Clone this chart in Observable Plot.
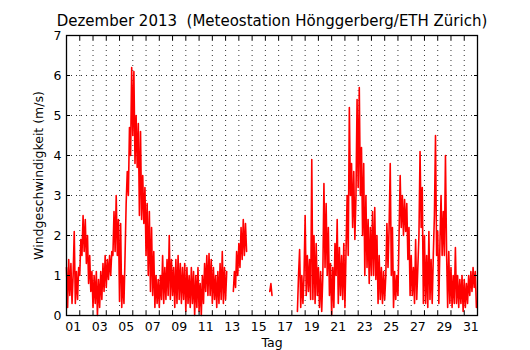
<!DOCTYPE html>
<html>
<head>
<meta charset="utf-8">
<script src="https://cdn.jsdelivr.net/npm/d3@7"></script>
<script src="https://cdn.jsdelivr.net/npm/@observablehq/plot@0.6"></script>
<style>
  body { margin: 0; background: white; font-family: "DejaVu Sans", sans-serif; }
  #wrap { position: relative; width: 530px; height: 350px; }
  #title { position: absolute; left: 0; top: 14px; padding-left: 14px; width: 516px; text-align: center;
           font-size: 15px; line-height: 15px; color: black; white-space: nowrap; z-index: 2; }
  #chart { position: absolute; left: 0; top: 0; }
</style>
</head>
<body>
<div id="wrap">
<div id="chart"></div>
<div id="title">Dezember 2013&nbsp; (Meteostation Hönggerberg/ETH Zürich)</div>
</div>
<script>
// Wind speed (m/s), 2-hourly readings per day (00h, 02h, ... 22h); null = no data
const d01 = [1.2, 0.2, 1.4, 0.5, 1.3, 0.3, 1.0, 2.1, 0.3, 1.1, 0.4, 1.2];
const d02 = [1.0, 1.9, 1.5, 2.5, 1.6, 2.4, 1.3, 2.0, 0.8, 1.5, 0.6, 1.1];
const d03 = [0.2, 1.0, 0.3, 1.1, 0.0, 0.9, 0.2, 1.1, 0.4, 1.3, 0.6, 1.5];
const d04 = [0.7, 1.4, 0.9, 1.5, 1.0, 1.6, 1.5, 2.6, 1.6, 3.0, 1.5, 2.4];
const d05 = [0.35, 2.3, 0.2, 1.0, 0.3, 1.5, 2.8, 3.6, 3.0, 4.7, 4.0, 6.2];
const d06 = [4.5, 6.1, 3.8, 5.0, 3.7, 4.8, 2.5, 4.6, 2.4, 3.5, 2.3, 3.2];
const d07 = [1.5, 2.8, 1.0, 2.6, 0.6, 2.2, 0.5, 1.6, 0.2, 1.0, 0.3, 0.9];
const d08 = [0.2, 1.0, 0.4, 1.5, 0.3, 1.2, 0.4, 1.4, 0.5, 2.0, 0.4, 1.4];
const d09 = [0.5, 1.2, 0.2, 1.4, 0.3, 1.5, 0.4, 1.3, 0.3, 1.2, 0.4, 1.3];
const d10 = [0.1, 1.2, 0.3, 1.0, 0.2, 1.2, 0.3, 1.1, 0.0, 1.0, 0.2, 1.2];
const d11 = [0.1, 0.8, 0.0, 1.0, 0.3, 1.3, 0.6, 1.5, 0.5, 1.55, 0.5, 1.4];
const d12 = [0.3, 1.2, 0.4, 1.0, 0.2, 1.1, 0.3, 1.3, 0.4, 1.6, 0.3, 1.2];
const d13 = [0.4, 1.1, null, null, null, null, null, 0.6, 1.1, 0.7, 1.6, 1.0];
const d14 = [1.8, 1.2, 2.2, 1.4, 2.4, 1.5, 2.3, 1.6, null, null, null, null];
const d15 = [null, null, null, null, null, null, null, null, null, null, null, null];
const d16 = [null, null, null, null, 0.6, 0.8, 0.5, null, null, null, null, null];
const d17 = [null, null, null, null, null, null, null, null, null, null, null, null];
const d18 = [null, null, null, null, null, 0.1, 1.0, 1.65, 0.2, 1.0, 0.3, 1.0];
const d19 = [2.5, 0.5, 1.5, 0.6, 1.4, 0.4, 3.9, 0.4, 2.0, 0.3, 1.8, 0.5];
const d20 = [1.2, 0.2, 1.1, 0.1, 1.0, 3.3, 1.2, 2.8, 1.0, 2.2, 0.5, 1.3];
const d21 = [0.0, 1.2, 0.2, 1.8, 1.0, 2.4, 0.3, 1.7, 0.5, 1.5, 0.4, 1.8];
const d22 = [0.2, 1.6, 3.0, 1.5, 5.2, 3.0, 3.8, 2.2, 3.6, 1.9, 3.0, 5.4];
const d23 = [3.2, 5.7, 3.0, 4.2, 2.0, 3.8, 1.0, 3.0, 1.2, 2.4, 0.8, 2.2];
const d24 = [1.0, 2.6, 1.0, 2.7, 0.9, 2.0, 0.3, 1.5, 0.4, 1.2, 0.3, 1.1];
const d25 = [0.4, 1.0, 2.3, 1.2, 2.2, 3.8, 1.0, 2.2, 0.2, 1.1, 0.4, 1.0];
const d26 = [0.5, 2.0, 3.5, 2.2, 3.0, 2.0, 2.9, 2.1, 2.8, 1.4, 2.2, 0.5];
const d27 = [1.5, 0.5, 1.2, 0.3, 1.9, 0.4, 1.2, 2.0, 4.1, 2.2, 3.2, 0.3];
const d28 = [2.0, 0.3, 1.5, 0.2, 2.1, 0.4, 1.4, 0.3, 1.5, 2.5, 4.5, 1.5];
const d29 = [2.1, 0.3, 1.8, 3.0, 1.5, 2.6, 1.5, 4.0, 1.6, 0.2, 1.6, 0.3];
const d30 = [1.2, 0.2, 1.0, 0.3, 1.7, 0.3, 1.0, 0.2, 0.9, 0.3, 1.0, 0.1];
const d31 = [0.9, 0.2, 0.8, 0.3, 1.0, 0.5, 1.1, 0.6, 1.2, 0.7, 1.1, 0.2];

const dailySeries = [d01, d02, d03, d04, d05, d06, d07, d08, d09, d10, d11, d12, d13, d14, d15, d16,
                     d17, d18, d19, d20, d21, d22, d23, d24, d25, d26, d27, d28, d29, d30, d31];

// Axis tick values
const dayBoundaries = [1, 2, 3, 4, 5, 6, 7, 8, 9, 10, 11, 12, 13, 14, 15, 16, 17, 18, 19, 20, 21, 22, 23, 24, 25, 26, 27, 28, 29, 30, 31, 32];
const dayLabels = ["01", "03", "05", "07", "09", "11", "13", "15", "17", "19", "21", "23", "25", "27", "29", "31"];
const yTicks = [0, 1, 2, 3, 4, 5, 6, 7];

const data = [];
dailySeries.forEach((vals, di) => {
  vals.forEach((v, i) => data.push({t: di + 1 + i / vals.length, v}));
});
const labelPos = dayLabels.map(s => +s + 0.5);
const labelText = new Map(labelPos.map((p, i) => [p, dayLabels[i]]));

const dotted = {stroke: "black", strokeDasharray: "1,4", strokeWidth: 1, strokeOpacity: 0.8};

const chart = Plot.plot({
  width: 530,
  height: 350,
  marginTop: 35,
  marginBottom: 35,
  marginLeft: 66,
  marginRight: 53,
  x: {domain: [1, 32]},
  y: {domain: [0, 7]},
  style: {fontFamily: "DejaVu Sans", fontSize: "12.5px", color: "black", background: "white"},
  marks: [
    Plot.ruleX(dayBoundaries.slice(1, -1), dotted),
    Plot.ruleY(yTicks.slice(1, -1), dotted),
    Plot.line(data, {x: "t", y: "v", stroke: "red", strokeWidth: 1.6}),
    Plot.axisX(dayBoundaries, {anchor: "bottom", tickSize: -4, tickFormat: () => "", label: null}),
    Plot.axisX(dayBoundaries, {anchor: "top", tickSize: -4, tickFormat: () => "", label: null}),
    Plot.axisX(labelPos, {anchor: "bottom", tickSize: 0, tickPadding: 7, tickFormat: d => labelText.get(d),
      label: "Tag", labelAnchor: "center", labelArrow: "none", labelOffset: 31}),
    Plot.axisY(yTicks, {anchor: "left", tickSize: -4, tickPadding: 9, tickFormat: d => String(d),
      label: "Windgeschwindigkeit (m/s)", labelAnchor: "center", labelArrow: "none", labelOffset: 32}),
    Plot.axisY(yTicks, {anchor: "right", tickSize: -4, tickFormat: () => "", label: null}),
    Plot.frame({stroke: "black", strokeWidth: 1.3})
  ]
});
document.getElementById("chart").appendChild(chart);
</script>
</body>
</html>
